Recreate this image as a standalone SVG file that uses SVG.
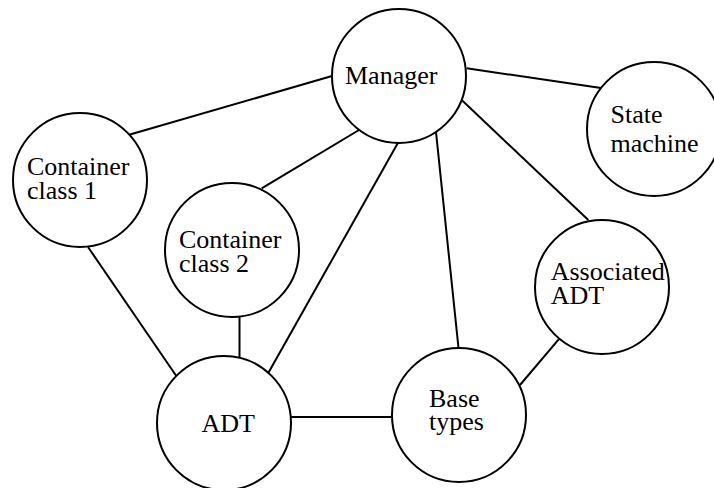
<svg xmlns="http://www.w3.org/2000/svg" width="714" height="488" viewBox="0 0 714 488">
  <style>
    .node circle { fill: #ffffff; stroke: #000000; stroke-width: 2; }
    .node text { font-family: "Liberation Serif", "Times New Roman", serif; font-size: 26px; fill: #000000; }
    #connectors line { stroke: #000000; stroke-width: 2; stroke-linecap: butt; }
  </style>
  <rect x="0" y="0" width="714" height="488" fill="#ffffff"/>

  <!-- edges between modules -->
  <g id="connectors">
    <line x1="332" y1="76" x2="128.3" y2="135"/>
    <line x1="466.7" y1="68.3" x2="601" y2="88"/>
    <line x1="461.7" y1="100" x2="588.3" y2="220"/>
    <line x1="436" y1="132" x2="458.5" y2="348"/>
    <line x1="398" y1="142.7" x2="268.3" y2="373"/>
    <line x1="359" y1="130" x2="261.7" y2="188.3"/>
    <line x1="88" y1="247" x2="177" y2="377"/>
    <line x1="239.5" y1="316.5" x2="239.5" y2="357.5"/>
    <line x1="290.7" y1="417" x2="392" y2="417"/>
    <line x1="520" y1="385" x2="559.3" y2="338.7"/>
  </g>

  <g id="manager" class="node">
    <circle cx="399" cy="76" r="67"/>
    <text x="345" y="83.5">Manager</text>
  </g>

  <g id="state-machine" class="node">
    <circle cx="654" cy="129" r="67"/>
    <text x="610.5" y="122.7">State<tspan x="610.5" dy="29">machine</tspan></text>
  </g>

  <g id="container-class-1" class="node">
    <circle cx="80" cy="180" r="67"/>
    <text x="27" y="174.5">Container<tspan x="27" dy="24">class 1</tspan></text>
  </g>

  <g id="container-class-2" class="node">
    <circle cx="232" cy="250" r="67"/>
    <text x="179" y="247.5">Container<tspan x="179" dy="24">class 2</tspan></text>
  </g>

  <g id="associated-adt" class="node">
    <circle cx="602" cy="287" r="67"/>
    <text x="550.7" y="280">Associated<tspan x="550.7" dy="23.8">ADT</tspan></text>
  </g>

  <g id="adt" class="node">
    <circle cx="224" cy="423" r="67"/>
    <text x="201.5" y="431.7">ADT</text>
  </g>

  <g id="base-types" class="node">
    <circle cx="459" cy="415" r="67"/>
    <text x="429" y="406.5">Base<tspan x="429" dy="23.5">types</tspan></text>
  </g>
</svg>
